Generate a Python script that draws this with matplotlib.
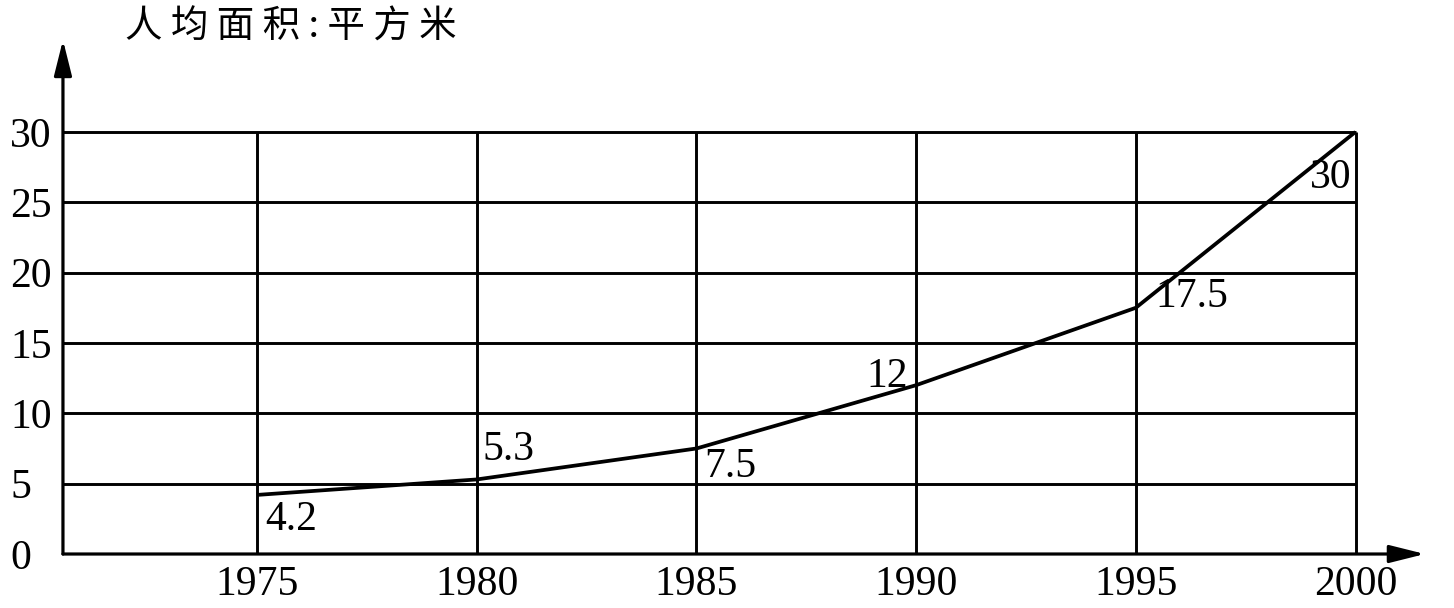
import matplotlib
matplotlib.use("Agg")
import matplotlib.pyplot as plt

# data
years = [1975, 1980, 1985, 1990, 1995, 2000]
area = [4.2, 5.3, 7.5, 12, 17.5, 30]
area_labels = ["4.2", "5.3", "7.5", "12", "17.5", "30"]
y_ticks = [0, 5, 10, 15, 20, 25, 30]
title = "人 均 面 积 : 平 方 米"

# label placement (pixel offsets from each point) and alignment
label_offsets = [(8, -25), (6, 30), (8, -18), (-8, 8), (20, 11), (-4, -46)]
label_ha = ["left", "left", "left", "right", "left", "right"]

serif = ["Liberation Serif", "DejaVu Serif"]
cjk = ["Noto Sans CJK SC", "DejaVu Sans"]

fig = plt.figure(figsize=(14.54, 6.08), dpi=100)
ax = fig.add_axes([0.0433, 0.0888, 0.9367, 0.8454])
ax.set_xlim(1970.58, 2001.58)
ax.set_ylim(0, 36.53)
for sp in ax.spines.values():
    sp.set_visible(False)

# grid: horizontals from the axis to 2000, verticals from 0 to 30
ax.hlines(y_ticks[1:], 1970.58, years[-1], color="black", lw=2.1, zorder=2)
ax.vlines(years, 0, y_ticks[-1], color="black", lw=2.1, zorder=2)

# axes with arrow heads
arrow = dict(arrowstyle="-|>,head_length=0.6,head_width=0.15", color="black",
             lw=2.3, mutation_scale=36, shrinkA=0, shrinkB=0)
ax.annotate("", xy=(0, 1), xytext=(0, 0), xycoords="axes fraction",
            arrowprops=arrow, annotation_clip=False)
ax.annotate("", xy=(1, 0), xytext=(0, 0), xycoords="axes fraction",
            arrowprops=arrow, annotation_clip=False)

# data line
ax.plot(years, area, color="black", lw=2.7, zorder=3, solid_capstyle="butt")

for x, v, s, off, ha in zip(years, area, area_labels, label_offsets, label_ha):
    ax.annotate(s, xy=(x, v), xytext=off, textcoords="offset pixels",
                ha=ha, va="center", fontsize=30, family=serif, zorder=4)

# ticks
ax.set_xticks(years)
ax.set_xticklabels([str(y) for y in years], family=serif, fontsize=30)
ax.set_yticks(y_ticks)
ax.set_yticklabels([str(v) for v in y_ticks], family=serif, fontsize=30,
                   ha="left")
ax.tick_params(axis="x", length=0, pad=8)
ax.tick_params(axis="y", length=0, pad=38)

fig.text(0.2, 0.956, title, ha="center", va="center", fontsize=27,
         family=cjk)

fig.savefig("out.png", dpi=100, facecolor="white")
